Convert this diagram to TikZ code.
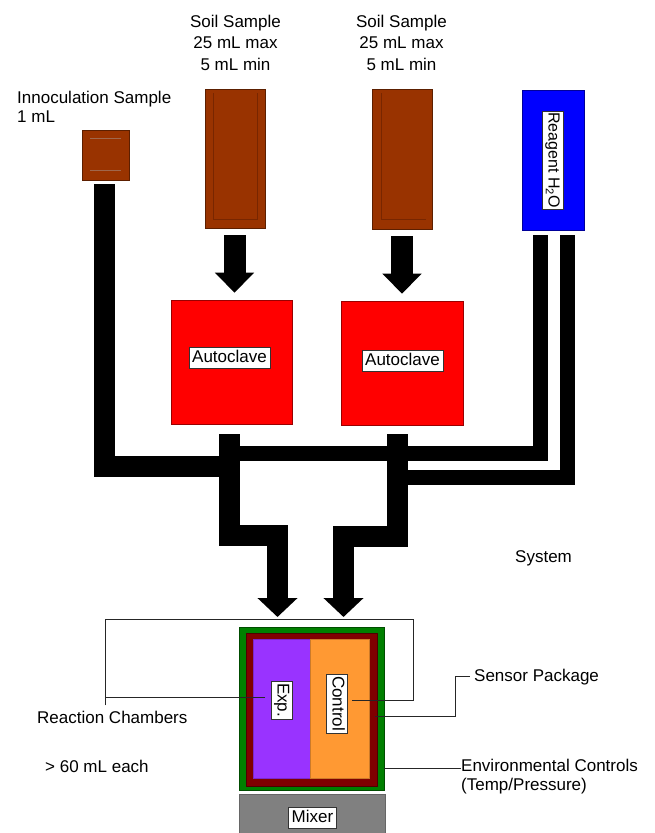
\documentclass[tikz,border=0pt]{standalone}
\usepackage{fontspec}
\setmainfont{Liberation Sans}
\usetikzlibrary{arrows.meta,positioning,calc}
\definecolor{soil}{RGB}{153,51,0}
\definecolor{soildk}{RGB}{120,38,0}
\definecolor{reagblue}{RGB}{0,0,255}
\definecolor{acred}{RGB}{255,0,0}
\definecolor{envgreen}{RGB}{0,128,0}
\definecolor{sensred}{RGB}{128,0,0}
\definecolor{expviolet}{RGB}{153,51,255}
\definecolor{ctlorange}{RGB}{255,153,51}
\definecolor{mixgray}{RGB}{128,128,128}
\tikzset{
  tank/.style={draw=#1!60!black,fill=#1,line width=0.6pt,inner sep=0pt},
  tag/.style={draw=black!80,fill=white,line width=0.5pt,inner sep=2.5pt,inner xsep=3pt,
    text height=12.5pt,text depth=3.5pt},
  lbl/.style={inner sep=0pt,align=left},
  pipe/.style={line width=21pt,line join=miter},
  thinpipe/.style={line width=15pt,line join=miter},
  feed/.style={line width=22pt,-{Triangle[width=38pt,length=20pt]},shorten <=7pt,shorten >=7pt},
  inlet/.style={-{Triangle[width=39pt,length=19pt]}},
  lead/.style={line width=0.6pt,black!85},
}

\begin{document}
\begin{tikzpicture}[x=1pt,y=-1pt,font=\fontsize{17}{21.5}\selectfont]
  \useasboundingbox (0,0) rectangle (655,833);

  % sample and reagent tanks
  \node[tank=soil,minimum width=47pt,minimum height=50pt] (ino) at (105.5,155) {};
  \node[tank=soil,minimum width=60pt,minimum height=139pt] (soil1) at (235,158.5) {};
  \node[tank=soil,minimum width=60pt,minimum height=140pt] (soil2) at (402,159) {};
  \node[tank=reagblue,minimum width=62pt,minimum height=140pt] (reag) at (553,160) {};
  \draw[soildk,line width=0.7pt] (213,93) -- (213,219) -- (257,219) -- (257,93);
  \draw[soildk,line width=0.7pt] (381,93) -- (381,219) -- (426,219);
  \draw[soildk!70,line width=0.6pt] (90,138) -- (121,138) (90,170) -- (121,170);
  \node[tag,rotate=-90,inner xsep=1pt,font=\fontsize{16}{18}\selectfont] (reagtag) at (reag) {Reagent H\textsubscript{2}O};

  \node[lbl,anchor=base west] (inolbl) at (17,122) {Innoculation Sample\\[-2.5pt]1 mL};
  \node[lbl,align=center,anchor=base] (soil1lbl) at (235.5,70) {Soil Sample\\25 mL max\\5 mL min};
  \node[lbl,align=center,anchor=base] (soil2lbl) at (401.5,70) {Soil Sample\\25 mL max\\5 mL min};

  % autoclaves
  \node[tank=acred,minimum width=121pt,minimum height=124pt] (ac1) at (231.5,362) {};
  \node[tank=acred,minimum width=122pt,minimum height=124pt] (ac2) at (402,363) {};
  \node[tag] (ac1tag) at (229.5,358) {Autoclave};
  \node[tag] (ac2tag) at (402.5,360.5) {Autoclave};

  \draw[feed] ([xshift=-0.5pt]soil1.south) -- ([xshift=-0.5pt]soil1.south |- ac1.north);
  \draw[feed] (soil2.south) -- (soil2.south |- ac2.north);

  % reaction chambers
  \node[tank=envgreen,minimum width=145pt,minimum height=163pt] (grn) at (311.5,708.5) {};
  \node[tank=sensred,minimum width=131pt,minimum height=153pt] (sens) at (311.5,709.5) {};
  \node[tank=expviolet,draw=expviolet!80!black,minimum width=57pt,minimum height=139pt] (exp) at (281.5,708.5) {};
  \node[tank=ctlorange,draw=ctlorange!80!black,minimum width=59pt,minimum height=139pt] (ctl) at (339.5,708.5) {};
  \node[tag,rotate=-90,inner xsep=2pt] (exptag) at (282,700) {Exp.};
  \node[tag,rotate=-90,inner xsep=2pt] (ctltag) at (337,703.5) {Control};
  \node[tank=mixgray,draw=mixgray!80!black,minimum width=146pt,minimum height=39pt] (mix) at (312,813.5) {};
  \node[tag] (mixtag) at (312.5,817.5) {Mixer};

  % pipes
  \coordinate (in1) at (277.5,617);
  \coordinate (in2) at (343.5,617);
  \draw[pipe] ([xshift=-1.5pt]ino.south) ++(0,4) |- (229,466);
  \draw[thinpipe] ([xshift=-12.5pt]reag.south) ++(0,5) |- (229,453);
  \draw[thinpipe] ([xshift=14.5pt]reag.south) ++(0,5) |- (397,477);
  \draw[pipe,inlet] ([xshift=-2pt]ac1.south) ++(0,10) -- ++(0,101.5) -| (in1);
  \draw[pipe,inlet] ([xshift=-5pt]ac2.south) ++(0,9) -- ++(0,102.5) -| (in2);

  % labels and leaders
  \node[lbl,anchor=base west] (sys) at (515,562) {System};
  \node[lbl,anchor=base west] (rc) at (37,723) {Reaction Chambers};
  \node[lbl,anchor=base west] (vol) at (45,772) {> 60 mL each};
  \node[lbl,anchor=base west] (sp) at (474,681) {Sensor Package};
  \node[lbl,anchor=base west] (env) at (461,790) {Environmental Controls\\[-2.5pt](Temp/Pressure)};

  \coordinate (rcleg) at ([xshift=-7pt,yshift=5pt]rc.north);
  \coordinate (rctop) at (413,619);
  \coordinate (ctlp) at (352,700);
  \coordinate (expp) at (265,697);
  \coordinate (snsp) at (375,716);
  \coordinate (envp) at (384,768);
  \draw[lead] (rcleg) |- (rctop) |- (ctlp);
  \draw[lead] (expp) -- (expp -| rcleg);
  \draw[lead] (snsp) -| ([xshift=-19pt]sp.west) -- ([xshift=-4pt]sp.west);
  \draw[lead] (envp) -- (envp -| env.west);
\end{tikzpicture}
\end{document}
